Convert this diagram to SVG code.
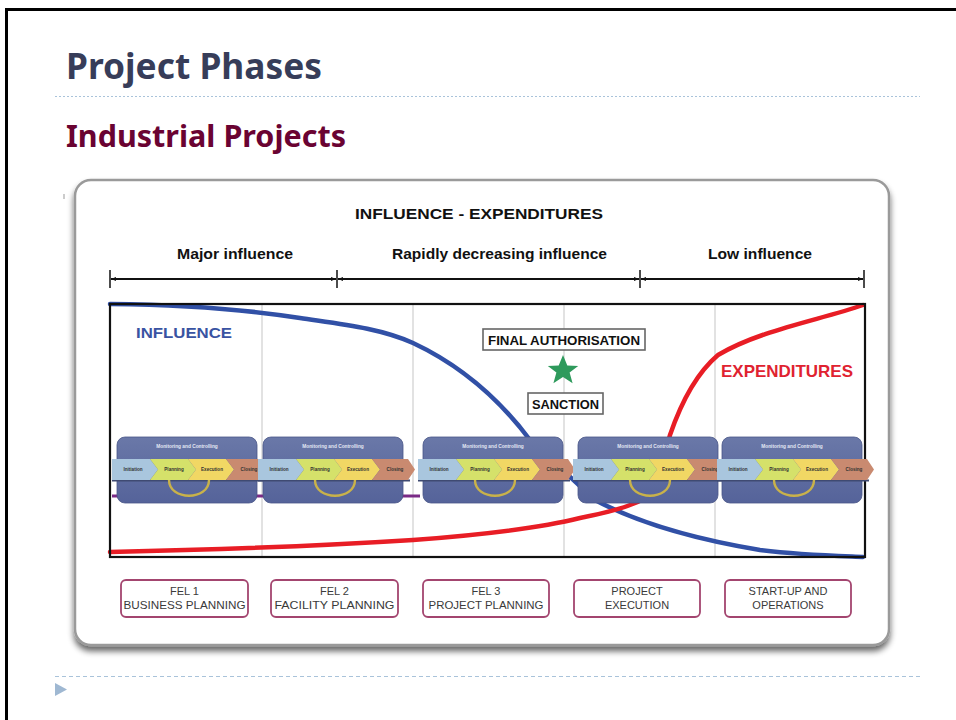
<svg xmlns="http://www.w3.org/2000/svg" width="956" height="720" viewBox="0 0 956 720">
<style>
.ttl{font-family:"Noto Sans","Liberation Sans",sans-serif;font-weight:bold}
.a{font-family:"Liberation Sans",Arial,sans-serif}
.b{font-family:"Liberation Sans",Arial,sans-serif;font-weight:bold}
.grid{stroke:#cfcfcf;stroke-width:1.2}
.dim{stroke:#111;stroke-width:2.2;fill:none}
.tick{stroke:#111;stroke-width:1.5}
.phase rect{fill:#fff;stroke:#a3456f;stroke-width:1.8}
.phase text{font-family:"Liberation Sans",Arial,sans-serif;font-size:11px;fill:#3a3a3a;text-anchor:middle}
.seg{font-family:"Liberation Sans",Arial,sans-serif;font-weight:bold;font-size:4.6px;fill:#333;text-anchor:middle}
.lbl{fill:#fff;stroke:#666;stroke-width:1.6}
</style>
<defs>
<marker id="ah" viewBox="0 0 10 10" refX="10" refY="5" markerWidth="5" markerHeight="5" orient="auto-start-reverse" markerUnits="userSpaceOnUse">
<path d="M0,1 L10,5 L0,9 z" fill="#111"/>
</marker>
<filter id="sh" x="-5%" y="-5%" width="110%" height="115%">
<feGaussianBlur in="SourceAlpha" stdDeviation="3"/>
<feOffset dx="0" dy="5" result="o"/>
<feComponentTransfer><feFuncA type="linear" slope="0.6"/></feComponentTransfer>
<feMerge><feMergeNode/><feMergeNode in="SourceGraphic"/></feMerge>
</filter>
<linearGradient id="bx" x1="0" y1="0" x2="0" y2="1">
<stop offset="0" stop-color="#6a78a8"/>
<stop offset="1" stop-color="#55639a"/>
</linearGradient>
<g id="proc">
<rect x="0" y="0" width="140" height="66" rx="8" fill="url(#bx)" stroke="#4a5788" stroke-width="0.8"/>
<text x="70" y="10.5" class="seg" style="fill:#e4e8f4;font-size:4.8px">Monitoring and Controlling</text>
<rect x="-5" y="42.5" width="152" height="2" fill="#3f4a72"/>
<polygon points="-5,22 33,22 41,32.5 33,43 -5,43" fill="#a9c6de"/>
<polygon points="33,22 71,22 79,32.5 71,43 33,43 41,32.5" fill="#d5e16a"/>
<polygon points="71,22 109,22 117,32.5 109,43 71,43 79,32.5" fill="#f1d764"/>
<polygon points="109,22 145,22 152,32.5 145,43 109,43 117,32.5" fill="#c98a70"/>
<text x="16" y="34.2" class="seg">Initiation</text>
<text x="57" y="34.2" class="seg">Planning</text>
<text x="95" y="34.2" class="seg">Execution</text>
<text x="132" y="34.2" class="seg">Closing</text>
<path d="M52,43 C52,64 92,64 92,43" fill="none" stroke="#c9b24a" stroke-width="2.4"/>
</g>
</defs>

<rect width="956" height="720" fill="#fff"/>
<path d="M6.5,720 L6.5,9.5 L956,9.5" fill="none" stroke="#000" stroke-width="3"/>

<g id="title">
<text x="66" y="79" class="ttl" font-size="35" fill="#373d59" textLength="256" lengthAdjust="spacingAndGlyphs">Project Phases</text>
</g>
<line x1="55" y1="96.5" x2="920" y2="96.5" stroke="#a9c3da" stroke-width="1" stroke-dasharray="2,2"/>
<g id="subtitle">
<text x="66" y="147" class="ttl" font-size="31" fill="#6a0332" textLength="280" lengthAdjust="spacingAndGlyphs">Industrial Projects</text>
</g>

<g id="frame">
<rect x="75" y="180" width="814" height="465" rx="16" fill="#fff" stroke="#9a9a9a" stroke-width="2.5" filter="url(#sh)"/>
<line x1="64" y1="194" x2="64" y2="199" stroke="#999" stroke-width="1"/>
</g>

<g id="heading">
<text x="479" y="219" class="b" font-size="14" text-anchor="middle" textLength="248" lengthAdjust="spacingAndGlyphs" fill="#111">INFLUENCE  - EXPENDITURES</text>
<text x="235" y="259" class="b" font-size="15" text-anchor="middle" textLength="116" lengthAdjust="spacingAndGlyphs" fill="#111">Major influence</text>
<text x="499.5" y="259" class="b" font-size="15" text-anchor="middle" textLength="215" lengthAdjust="spacingAndGlyphs" fill="#111">Rapidly decreasing influence</text>
<text x="760" y="259" class="b" font-size="15" text-anchor="middle" textLength="104" lengthAdjust="spacingAndGlyphs" fill="#111">Low influence</text>
</g>

<g id="connectors">
<line class="tick" x1="110" y1="270" x2="110" y2="288"/>
<line class="tick" x1="337" y1="270" x2="337" y2="288"/>
<line class="tick" x1="640" y1="270" x2="640" y2="288"/>
<line class="tick" x1="864" y1="270" x2="864" y2="288"/>
<line class="dim" x1="111" y1="279" x2="336" y2="279" marker-start="url(#ah)" marker-end="url(#ah)"/>
<line class="dim" x1="338" y1="279" x2="639" y2="279" marker-start="url(#ah)" marker-end="url(#ah)"/>
<line class="dim" x1="641" y1="279" x2="863" y2="279" marker-start="url(#ah)" marker-end="url(#ah)"/>
</g>

<g id="chart">
<line class="grid" x1="262" y1="305" x2="262" y2="556"/>
<line class="grid" x1="413" y1="305" x2="413" y2="556"/>
<line class="grid" x1="564" y1="305" x2="564" y2="556"/>
<line class="grid" x1="715" y1="305" x2="715" y2="556"/>
<line x1="112" y1="496" x2="420" y2="496" stroke="#7a2a86" stroke-width="3"/>
<path id="influence-curve" d="M110,304 C200,305 262,312 300,318 C340,324 380,328 413,343 C460,365 500,400 530,440 L595,500 C640,524 700,540 760,550 C800,555 840,556 863,557" fill="none" stroke="#3150a6" stroke-width="4.5" stroke-linecap="round"/>
<path id="expenditure-curve" d="M110,552 C250,549 350,544 413,540 C480,535 540,528 580,518 C620,510 645,502 655,490 L670,435 C682,400 698,372 718,355 C760,330 820,320 863,305" fill="none" stroke="#e81d25" stroke-width="4.5" stroke-linecap="round"/>
<rect x="110" y="304" width="755" height="253" fill="none" stroke="#111" stroke-width="2.2"/>
</g>

<g id="proc1"><use href="#proc" transform="translate(117,437)"/></g>
<g id="proc2"><use href="#proc" transform="translate(263,437)"/></g>
<g id="proc3"><use href="#proc" transform="translate(423,437)"/></g>
<g id="proc4"><use href="#proc" transform="translate(578,437)"/></g>
<g id="proc5"><use href="#proc" transform="translate(722,437)"/></g>

<g id="influence-label">
<text x="136" y="338" class="b" font-size="15" fill="#3953a2" textLength="96" lengthAdjust="spacingAndGlyphs">INFLUENCE</text>
</g>
<g id="expenditures-label">
<text x="721" y="377" class="b" font-size="16.5" fill="#e02230" textLength="132" lengthAdjust="spacingAndGlyphs">EXPENDITURES</text>
</g>

<g id="final-authorisation">
<rect class="lbl" x="483" y="329" width="162" height="21"/>
<text x="564" y="344.5" class="b" font-size="12" text-anchor="middle" textLength="152" lengthAdjust="spacingAndGlyphs" fill="#111">FINAL AUTHORISATION</text>
</g>
<g id="star">
<polygon points="563,355 567.3,365.6 578.2,365.9 569.6,372.6 572.6,383.2 563,377 553.4,383.2 556.4,372.6 547.8,365.9 558.7,365.6" fill="#2e9a5c"/>
</g>
<g id="sanction">
<rect class="lbl" x="528" y="393" width="75" height="21"/>
<text x="565.5" y="408.5" class="b" font-size="12" text-anchor="middle" textLength="67" lengthAdjust="spacingAndGlyphs" fill="#111">SANCTION</text>
</g>

<g id="fel1" class="phase">
<rect x="121" y="580" width="127" height="37" rx="5"/>
<text x="184.5" y="595">FEL 1</text>
<text x="184.5" y="609" textLength="122" lengthAdjust="spacingAndGlyphs">BUSINESS  PLANNING</text>
</g>
<g id="fel2" class="phase">
<rect x="271" y="580" width="127" height="37" rx="5"/>
<text x="334.5" y="595">FEL 2</text>
<text x="334.5" y="609" textLength="120" lengthAdjust="spacingAndGlyphs">FACILITY PLANNING</text>
</g>
<g id="fel3" class="phase">
<rect x="423" y="580" width="126" height="37" rx="5"/>
<text x="486" y="595">FEL 3</text>
<text x="486" y="609" textLength="115" lengthAdjust="spacingAndGlyphs">PROJECT PLANNING</text>
</g>
<g id="execution" class="phase">
<rect x="574" y="580" width="126" height="37" rx="5"/>
<text x="637" y="595">PROJECT</text>
<text x="637" y="609">EXECUTION</text>
</g>
<g id="startup" class="phase">
<rect x="725" y="580" width="126" height="37" rx="5"/>
<text x="788" y="595">START-UP AND</text>
<text x="788" y="609">OPERATIONS</text>
</g>

<line x1="55" y1="676.5" x2="920" y2="676.5" stroke="#a9c3da" stroke-width="1" stroke-dasharray="4,3"/>
<polygon points="55,683 55,696 67,689.5" fill="#9fb8d2"/>
</svg>
